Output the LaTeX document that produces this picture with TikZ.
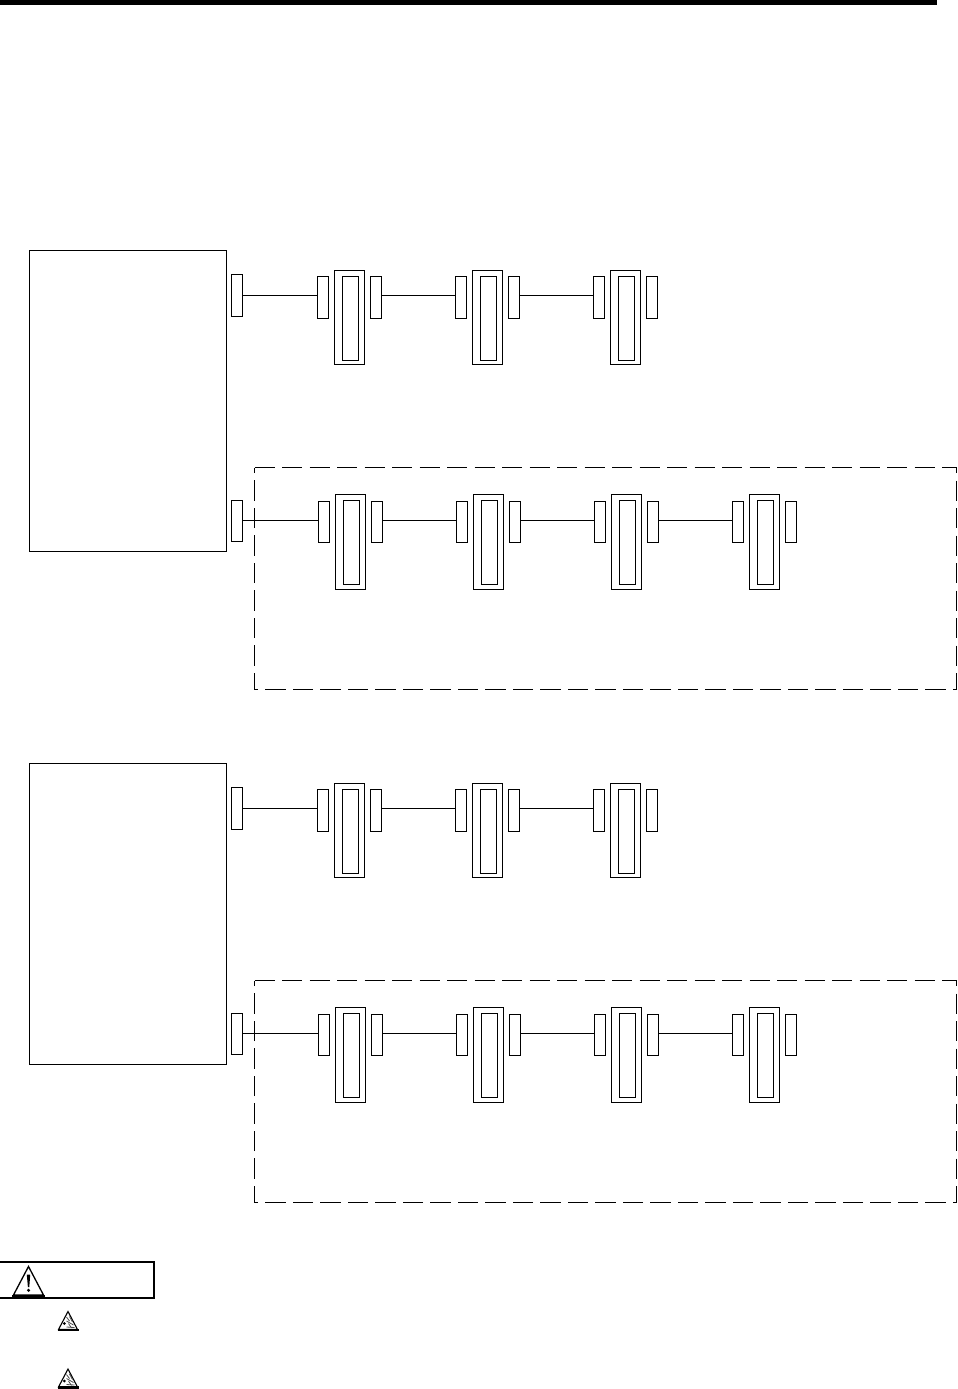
\documentclass[tikz,border=0pt]{standalone}
\tikzset{
  x=1pt,y=-1pt,
  bx/.style={draw,rectangle,inner sep=0pt,outer sep=0pt,line width=1.1pt},
  dashbox/.style={draw,line width=1.1pt,dash pattern=on 20.2pt off 7.3pt},
  wire/.style={draw,line width=1.1pt},
  warnmark/.style={line width=1.3pt,line join=miter}
}
% \boxat{name}{x0}{y0}{x1}{y1}: corners measured on the line centres
\newcommand{\boxat}[5]{%
  \pgfmathsetmacro{\bxw}{#4-(#2)}%
  \pgfmathsetmacro{\bxh}{#5-(#3)}%
  \pgfmathsetmacro{\bxx}{#2}%
  \pgfmathsetmacro{\bxy}{#3}%
  \node[bx,minimum width=\bxw pt,minimum height=\bxh pt,anchor=north west] (#1) at (\bxx,\bxy) {};}
% unit of the open chains
\newcommand{\unitUp}[3]{%
  \boxat{#1l}{#2}{#3}{#2+11}{#3+42}
  \boxat{#1o}{#2+17}{#3-6}{#2+47}{#3+88}
  \boxat{#1i}{#2+25}{#3}{#2+41}{#3+84}
  \boxat{#1r}{#2+53}{#3}{#2+64}{#3+42}}
% unit of the chains in the dashed frames
\newcommand{\unitLow}[3]{%
  \boxat{#1l}{#2}{#3}{#2+11}{#3+41}
  \boxat{#1o}{#2+17}{#3-7}{#2+47}{#3+88}
  \boxat{#1i}{#2+25}{#3-1}{#2+41}{#3+83}
  \boxat{#1r}{#2+53}{#3}{#2+64}{#3+41}}
\newcommand{\smallicon}[2]{%
  \begin{scope}[shift={(#1,#2)}]
    \draw[line width=1.1pt,line join=miter] (10.5,1.5) -- (20,19.5) -- (1,19.5) -- cycle;
    \fill (0,18.8) rectangle (21,21);
    \fill (6.8,13.5) circle (1.5pt);
    \draw[black!70,line width=0.8pt] (9,7) -- (12,11) (12,6.5) -- (15,12) (9,11) -- (16,15);
    \draw[black!70,line width=0.8pt] (9,17) -- (17,17.5) (11,13.5) -- (14,18);
  \end{scope}}
\begin{document}
\begin{tikzpicture}[line width=1.1pt]
\useasboundingbox (0,0) rectangle (958,1389);
\fill (0,0) rectangle (937,5);

% ---- first group
\boxat{mainA}{29.5}{250.5}{226.5}{551.5}
\boxat{cA}{231.5}{274.5}{242.5}{316.5}
\coordinate (yA) at (0,295.5);
\unitUp{a1}{317.5}{276.5}
\unitUp{a2}{455.5}{276.5}
\unitUp{a3}{593.5}{276.5}
\draw (cA.east |- yA) -- (a1l.west |- yA);
\draw (a1r.east |- yA) -- (a2l.west |- yA);
\draw (a2r.east |- yA) -- (a3l.west |- yA);

\draw[dashbox] (254.5,467.5) -- (956.5,467.5) -- (956.5,689.5) -- (254.5,689.5) -- cycle;
\boxat{cB}{231.5}{500.5}{242.5}{541.5}
\coordinate (yB) at (0,520.5);
\unitLow{b1}{318.5}{501.5}
\unitLow{b2}{456.5}{501.5}
\unitLow{b3}{594.5}{501.5}
\unitLow{b4}{732.5}{501.5}
\draw (cB.east |- yB) -- (b1l.west |- yB);
\draw (b1r.east |- yB) -- (b2l.west |- yB);
\draw (b2r.east |- yB) -- (b3l.west |- yB);
\draw (b3r.east |- yB) -- (b4l.west |- yB);

% ---- second group
\boxat{mainC}{29.5}{763.5}{226.5}{1064.5}
\boxat{cC}{231.5}{787.5}{242.5}{829.5}
\coordinate (yC) at (0,808.5);
\unitUp{c1}{317.5}{789.5}
\unitUp{c2}{455.5}{789.5}
\unitUp{c3}{593.5}{789.5}
\draw (cC.east |- yC) -- (c1l.west |- yC);
\draw (c1r.east |- yC) -- (c2l.west |- yC);
\draw (c2r.east |- yC) -- (c3l.west |- yC);

\draw[dashbox] (254.5,980.5) -- (956.5,980.5) -- (956.5,1202.5) -- (254.5,1202.5) -- cycle;
\boxat{cD}{231.5}{1013.5}{242.5}{1054.5}
\coordinate (yD) at (0,1033.5);
\unitLow{d1}{318.5}{1014.5}
\unitLow{d2}{456.5}{1014.5}
\unitLow{d3}{594.5}{1014.5}
\unitLow{d4}{732.5}{1014.5}
\draw (cD.east |- yD) -- (d1l.west |- yD);
\draw (d1r.east |- yD) -- (d2l.west |- yD);
\draw (d2r.east |- yD) -- (d3l.west |- yD);
\draw (d3r.east |- yD) -- (d4l.west |- yD);

% ---- caution box
\draw[line width=2pt] (-1,1262) rectangle (154,1298);
\draw[warnmark] (28.5,1266.5) -- (43.5,1295) -- (13.5,1295) -- cycle;
\fill (12,1294.5) rectangle (45,1296.5);
\fill (26.8,1274.5) -- (30.2,1274.5) -- (29.3,1287) -- (27.9,1287) -- cycle;
\fill (28.6,1290.3) circle (1.7pt);
\smallicon{57.5}{1310}
\smallicon{57.5}{1367.5}
\end{tikzpicture}
\end{document}
